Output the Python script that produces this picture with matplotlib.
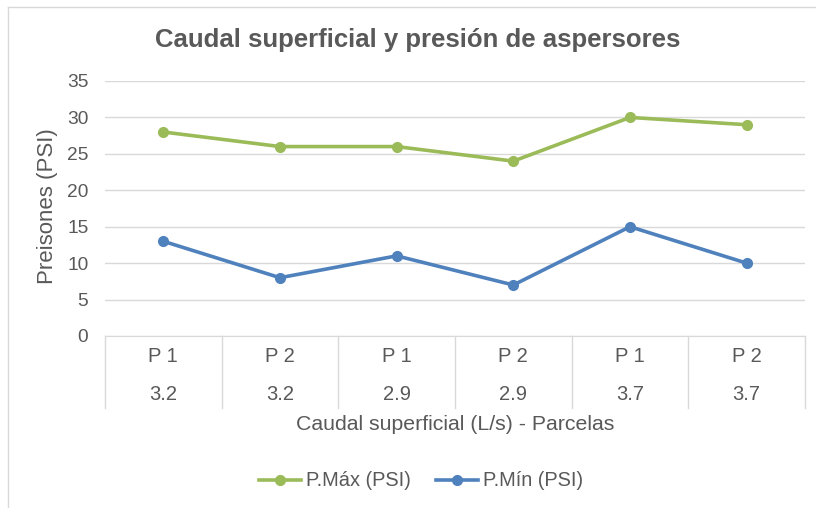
import matplotlib.pyplot as plt
from matplotlib.lines import Line2D
import matplotlib.transforms as mtransforms

plt.rcParams['font.family'] = ['Liberation Sans', 'DejaVu Sans']

parcelas = ['P 1', 'P 2', 'P 1', 'P 2', 'P 1', 'P 2']
caudal = ['3.2', '3.2', '2.9', '2.9', '3.7', '3.7']
p_max = [28, 26, 26, 24, 30, 29]
p_min = [13, 8, 11, 7, 15, 10]

GREEN = '#9BBB59'
BLUE = '#4F81BD'
TXT = '#595959'
GRID = '#D9D9D9'

W, H = 816, 508
fig = plt.figure(figsize=(W / 100, H / 100), dpi=100)
ax = fig.add_axes([105 / W, (H - 336) / H, 700 / W, 255 / H])

x = list(range(len(p_max)))
ax.plot(x, p_max, color=GREEN, lw=2.6, marker='o', ms=7, label='P.Máx (PSI)')
ax.plot(x, p_min, color=BLUE, lw=2.6, marker='o', ms=7, label='P.Mín (PSI)')

ax.set_xlim(-0.5, len(x) - 0.5)
ax.set_ylim(0, 35)
ax.set_yticks(range(0, 36, 5))
ax.yaxis.grid(True, color=GRID, lw=1)
ax.set_axisbelow(True)
ax.tick_params(axis='y', length=0, labelsize=13.8, labelcolor=TXT, pad=12)
ax.set_xticks([])
for s in ['left', 'right', 'top']:
    ax.spines[s].set_visible(False)
ax.spines['bottom'].set_color(GRID)

# category table below the axis
trans = mtransforms.blended_transform_factory(ax.transData, ax.transAxes)
bottom = -(408 - 336) / 255
for b in [i - 0.5 for i in range(len(x) + 1)]:
    ax.add_line(Line2D([b, b], [0, bottom], transform=trans, color=GRID, lw=1, clip_on=False))
for i in x:
    ax.text(i, -(357 - 336) / 255, parcelas[i], transform=trans, ha='center', va='center',
            fontsize=14.5, color=TXT)
    ax.text(i, -(395 - 336) / 255, caudal[i], transform=trans, ha='center', va='center',
            fontsize=14.5, color=TXT)

fig.text(455 / W, 1 - 424 / H, 'Caudal superficial (L/s) - Parcelas', ha='center', va='center',
         fontsize=15.3, color=TXT)
fig.text(48 / W, 1 - 206 / H, 'Preisones (PSI)', ha='center', va='center', rotation=90,
         fontsize=16, color=TXT)
fig.text(418 / W, 1 - 40 / H, 'Caudal superficial y presión de aspersores', ha='center',
         va='center', fontsize=18.5, fontweight='bold', color=TXT)

fig.legend(loc='center', bbox_to_anchor=(421 / W, 1 - 481 / H), ncol=2, frameon=False,
           fontsize=14.4, labelcolor=TXT, handlelength=2.1, handletextpad=0.25, columnspacing=1.3)

# outer chart border (top and left edges visible)
fig.add_artist(Line2D([8 / W, 1], [1 - 7 / H, 1 - 7 / H], transform=fig.transFigure, color=GRID, lw=1))
fig.add_artist(Line2D([8 / W, 8 / W], [0, 1 - 7 / H], transform=fig.transFigure, color=GRID, lw=1))

fig.savefig('out.png', dpi=100)
